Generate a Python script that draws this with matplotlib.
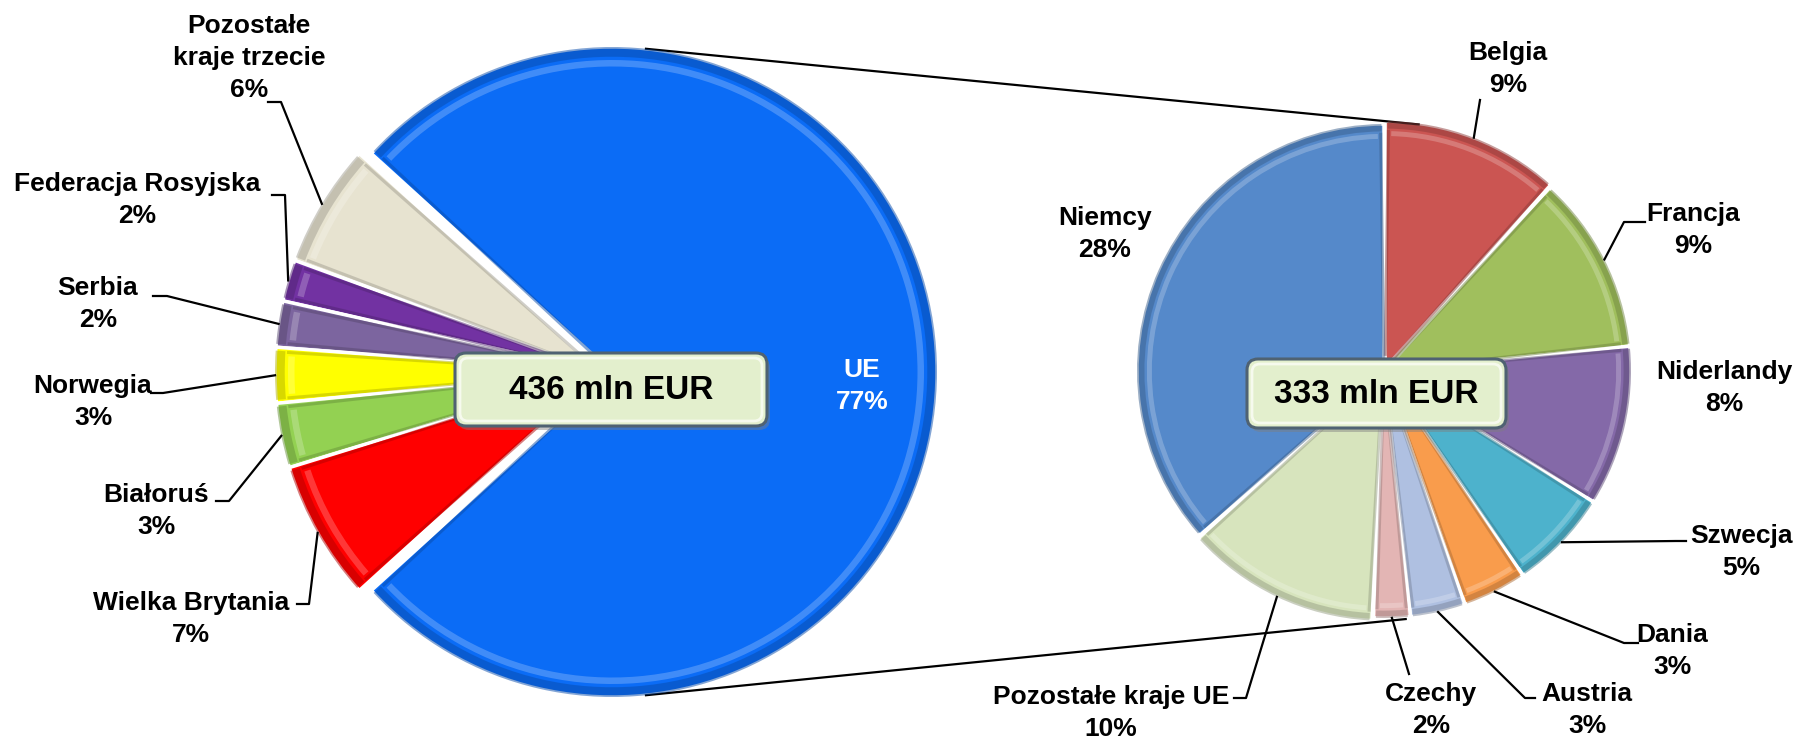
import numpy as np
import matplotlib
matplotlib.use("Agg")
import matplotlib.pyplot as plt
import matplotlib.colors as mcolors
from matplotlib.patches import FancyBboxPatch, Wedge

plt.rcParams['font.family'] = ['Liberation Sans', 'DejaVu Sans']

# ---------------- data (mln EUR) ----------------
main_labels = ['Pozostałe\nkraje trzecie', 'Federacja Rosyjska', 'Serbia', 'Norwegia',
               'Białoruś', 'Wielka Brytania', 'UE']
main_values = [26.8, 9.0, 10.0, 12.0, 14.0, 30.4, 333.4]
main_colors = ['#E7E3D0', '#7232A2', '#7C659F', '#FFFF00', '#93D152', '#FF0000', '#0B6CF6']

ue_labels = ['Belgia', 'Francja', 'Niderlandy', 'Szwecja', 'Dania', 'Austria',
             'Czechy', 'Pozostałe kraje UE', 'Niemcy']
ue_values = [39.0, 39.0, 35.0, 22.0, 14.0, 12.0, 8.0, 42.4, 122.0]
ue_colors = ['#CB5552', '#A0BF5D', '#8469A8', '#4DB2CC', '#F99C4C', '#AFC0E1',
             '#E3B5B4', '#D7E4BD', '#5589CA']

W, H = 1814, 744
fig = plt.figure(figsize=(W / 100, H / 100), dpi=100)
ax = fig.add_axes([0, 0, 1, 1])


def P(x, y):
    """pixel (top-left origin) -> data coords"""
    return x, H - y


total = sum(main_values)
ue_total = main_values[-1]
others = total - ue_total

# ---------------- main pie ----------------
start_main = 180 - (others / total * 360) / 2
explode_main = [0, 0, 0, 0, 0, 0, 12]
wedges_main, _ = ax.pie(main_values, colors=main_colors, startangle=start_main,
                        counterclock=True, center=P(600, 372), radius=325,
                        explode=explode_main, frame=True,
                        wedgeprops=dict(edgecolor='white', linewidth=2.5))

# ---------------- secondary pie ----------------
explode_ue = [3, 0, 0, 0, 0, 0, 0, 3, 0]
wedges_ue, _ = ax.pie(ue_values, colors=ue_colors, startangle=90,
                      counterclock=False, center=P(1384, 371), radius=247,
                      explode=explode_ue, frame=True,
                      wedgeprops=dict(edgecolor='white', linewidth=2.5))


def shade(c, f):
    r, g, b = mcolors.to_rgb(c)
    if f < 0:
        return (r * (1 + f), g * (1 + f), b * (1 + f))
    return (r + (1 - r) * f, g + (1 - g) * f, b + (1 - b) * f)


# bevel-like decoration
for wlist in (wedges_main, wedges_ue):
    for w in wlist:
        c = w.get_facecolor()
        t1, t2 = w.theta1, w.theta2
        r = w.r
        cx, cy = w.center
        d = 0.6
        ax.add_patch(Wedge((cx, cy), r, t1 + d, t2 - d, width=r * 0.03,
                           facecolor=shade(c, -0.3), edgecolor='none', alpha=0.5, zorder=2))
        ax.add_patch(Wedge((cx, cy), r * 0.96, t1 + 1.5, t2 - 1.5, width=r * 0.02,
                           facecolor=shade(c, 0.4), edgecolor='none', alpha=0.55, zorder=2))
        for t in (t1 + 0.8, t2 - 0.8):
            a = np.deg2rad(t)
            ax.plot([cx + 0.05 * r * np.cos(a), cx + 0.965 * r * np.cos(a)],
                    [cy + 0.05 * r * np.sin(a), cy + 0.965 * r * np.sin(a)],
                    color=shade(c, -0.3), lw=2.2, alpha=0.5, zorder=2,
                    solid_capstyle='butt')

# ---------------- connector lines ----------------
blue = wedges_main[-1]
top_sec = wedges_ue[0]
for a1, a2 in ((84, 82), (-84, -85)):
    x1 = blue.center[0] + blue.r * np.cos(np.deg2rad(a1))
    y1 = blue.center[1] + blue.r * np.sin(np.deg2rad(a1))
    cx2, cy2 = P(1384, 371)
    x2 = cx2 + (top_sec.r + 2) * np.cos(np.deg2rad(a2))
    y2 = cy2 + (top_sec.r + 2) * np.sin(np.deg2rad(a2))
    ax.plot([x1, x2], [y1, y2], color='black', lw=1.6, zorder=1)

# ---------------- labels ----------------
FS = 19
LS = 1.4


def pct(v):
    return f"{v / total * 100:.0f}%"


def mid_point(w, frac=1.0):
    a = np.deg2rad((w.theta1 + w.theta2) / 2)
    return (w.center[0] + frac * w.r * np.cos(a), w.center[1] + frac * w.r * np.sin(a))


# label centre (px) and leader-line points (px) near the label
main_label_pos = [(249, 58), (137, 200), (98, 304), (93, 402), (156, 511), (191, 619)]
main_leader = [[(268, 102), (281, 102)], [(272, 195), (285, 195)], [(153, 296), (167, 296)],
               [(151, 393), (163, 393)], [(216, 501), (229, 501)], [(297, 604), (309, 604)]]
for i in range(6):
    x, y = P(*main_label_pos[i])
    ax.text(x, y, f"{main_labels[i]}\n{pct(main_values[i])}", ha='center', va='center',
            fontsize=FS, fontweight='bold', linespacing=LS, zorder=5)
    pts = [P(*p) for p in main_leader[i]] + [mid_point(wedges_main[i])]
    ax.plot([p[0] for p in pts], [p[1] for p in pts], color='black', lw=1.6, zorder=4)

x, y = P(862, 386)
ax.text(x, y, f"{main_labels[-1]}\n{pct(main_values[-1])}", ha='center', va='center',
        fontsize=FS, fontweight='bold', linespacing=LS, color='white', zorder=5)

ue_label_pos = [(1508, 69), (1693, 230), (1724, 388), (1741, 552), (1672, 651),
                (1587, 710), (1431, 710), (1111, 713), (1105, 234)]
ue_leader = [[(1480, 100)], [(1645, 222), (1624, 222)], None, [(1686, 541), (1676, 541)],
             [(1638, 643), (1624, 643)], [(1535, 698), (1525, 698)], [(1409, 674)],
             [(1234, 698), (1246, 698)], None]
for i in range(len(ue_values)):
    x, y = P(*ue_label_pos[i])
    ax.text(x, y, f"{ue_labels[i]}\n{pct(ue_values[i])}", ha='center', va='center',
            fontsize=FS, fontweight='bold', linespacing=LS, zorder=5)
    if ue_leader[i] is not None:
        pts = [P(*p) for p in ue_leader[i]] + [mid_point(wedges_ue[i])]
        ax.plot([p[0] for p in pts], [p[1] for p in pts], color='black', lw=1.6, zorder=4)


# ---------------- total boxes ----------------
def total_box(x0, y0, x1, y1, text):
    X0, Y1 = P(x0, y0)
    X1, Y0 = P(x1, y1)
    w, h = X1 - X0, Y1 - Y0
    ax.add_patch(FancyBboxPatch((X0 + 3, Y0 - 4), w, h,
                                boxstyle="round,pad=0,rounding_size=11",
                                facecolor='#7f7f7f', edgecolor='none', alpha=0.45, zorder=6))
    ax.add_patch(FancyBboxPatch((X0, Y0), w, h, boxstyle="round,pad=0,rounding_size=11",
                                facecolor='#E3EFCD', edgecolor='#4F6272', linewidth=2.2, zorder=7))
    ax.add_patch(FancyBboxPatch((X0 + 5, Y0 + 5), w - 10, h - 10,
                                boxstyle="round,pad=0,rounding_size=8",
                                facecolor='none', edgecolor='#F6FAEE', linewidth=2.0, zorder=7))
    ax.text(X0 + w / 2, Y0 + h / 2 - 1, text, ha='center', va='center', fontsize=24,
            fontweight='bold', zorder=8)


total_box(455, 353, 767, 426, f"{total:.0f} mln EUR")
total_box(1247, 359, 1506, 428, f"{ue_total:.0f} mln EUR")

ax.set_xlim(0, W)
ax.set_ylim(0, H)
ax.set_aspect('equal')
ax.axis('off')
fig.savefig('out.png', dpi=100, facecolor='white')
